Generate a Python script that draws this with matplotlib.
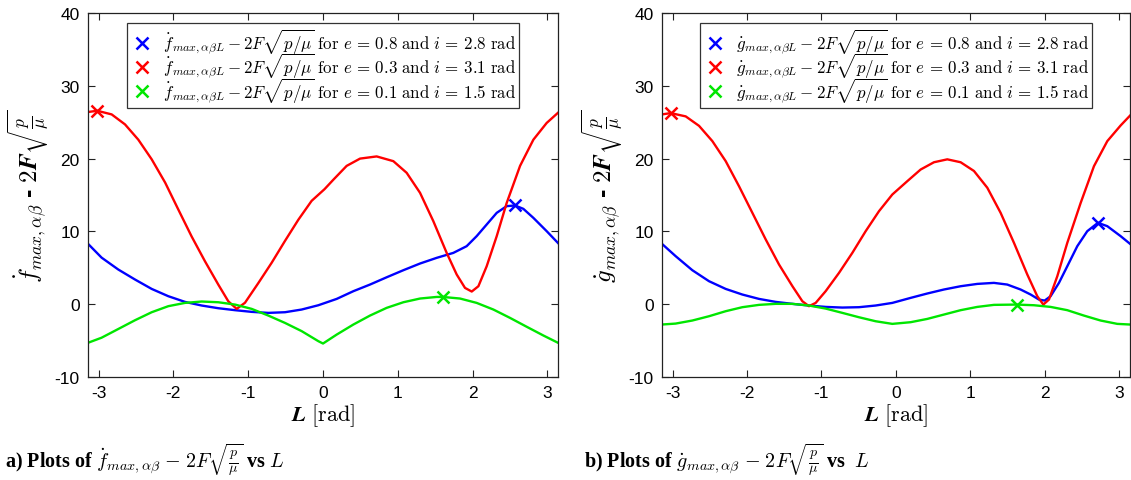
from __future__ import annotations

import matplotlib

matplotlib.use("Agg")
import matplotlib.pyplot as plt
import numpy as np
from matplotlib.axes import Axes

plt.rcParams["mathtext.fontset"] = "cm"
plt.rcParams["font.family"] = ["Liberation Sans", "DejaVu Sans"]
plt.rcParams["axes.unicode_minus"] = False

# --- panel a): f-dot curves (values read off the reference) ---
fa_blue_x = [-3.1416, -2.96, -2.736, -2.513, -2.29, -2.068, -1.845, -1.622, -1.40, -1.176,
             -0.954, -0.731, -0.508, -0.285, -0.062, 0.183, 0.406, 0.628, 0.851, 1.074,
             1.297, 1.52, 1.742, 1.92, 2.054, 2.188, 2.322, 2.455, 2.567, 2.678, 2.812,
             2.99, 3.1416]
fa_blue_y = [8.3, 6.4, 4.76, 3.39, 2.1, 1.1, 0.32, -0.18, -0.55, -0.82,
             -1.05, -1.19, -1.10, -0.73, -0.14, 0.73, 1.79, 2.7, 3.7, 4.67,
             5.59, 6.37, 7.05, 7.97, 9.35, 10.95, 12.55, 13.47, 13.56, 13.1, 11.86,
             10.03, 8.4]
fa_red_x = [-3.1416, -3.017, -2.825, -2.647, -2.469, -2.29, -2.11, -1.934, -1.756, -1.578,
            -1.40, -1.266, -1.154, -1.043, -0.865, -0.686, -0.508, -0.33, -0.152, 0.02,
            0.138, 0.316, 0.495, 0.717, 0.94, 1.118, 1.297, 1.475, 1.653, 1.787, 1.898,
            1.988, 2.077, 2.188, 2.322, 2.455, 2.634, 2.812, 2.99, 3.1416]
fa_red_y = [26.4, 26.57, 26.07, 24.7, 22.6, 19.9, 16.7, 13.0, 9.3, 5.9,
            2.7, 0.4, -0.64, 0.2, 2.9, 5.7, 8.7, 11.6, 14.2, 15.8,
            17.1, 19.0, 20.0, 20.3, 19.65, 18.05, 15.3, 11.4, 7.05, 4.08, 2.24,
            1.74, 2.47, 5.22, 9.35, 13.9, 19.0, 22.6, 24.9, 26.3]
fa_green_x = [-3.1416, -2.96, -2.736, -2.513, -2.29, -2.068, -1.845, -1.622, -1.40, -1.176,
              -0.954, -0.731, -0.508, -0.285, -0.062, 0.0, 0.183, 0.406, 0.628, 0.851,
              1.074, 1.297, 1.52, 1.60, 1.832, 2.054, 2.277, 2.5, 2.723, 2.946, 3.1416]
fa_green_y = [-5.3, -4.6, -3.4, -2.2, -1.1, -0.27, 0.18, 0.37, 0.27, -0.05,
              -0.64, -1.56, -2.57, -3.7, -5.08, -5.4, -4.17, -2.79, -1.56, -0.5,
              0.27, 0.78, 1.0, 1.0, 0.78, 0.18, -0.73, -1.88, -3.1, -4.3, -5.3]
fa_peaks_x = [2.567, -3.017, 1.60]
fa_peaks_y = [13.56, 26.57, 1.0]

# --- panel b): g-dot curves ---
gb_blue_x = [-3.1416, -2.958, -2.734, -2.51, -2.286, -2.063, -1.839, -1.615, -1.392, -1.168,
             -0.944, -0.72, -0.497, -0.273, -0.049, 0.197, 0.42, 0.644, 0.868, 1.092,
             1.315, 1.494, 1.673, 1.808, 1.919, 1.996, 2.076, 2.188, 2.3, 2.434, 2.568,
             2.711, 2.837, 3.016, 3.1416]
gb_blue_y = [8.29, 6.6, 4.67, 3.16, 2.1, 1.33, 0.73, 0.32, 0.05, -0.18,
             -0.37, -0.46, -0.41, -0.18, 0.18, 0.87, 1.47, 2.02, 2.47, 2.79,
             2.93, 2.7, 2.02, 1.33, 0.64, 0.5, 1.1, 2.93, 5.22, 7.97, 10.03,
             11.18, 10.72, 9.35, 8.3]
gb_red_x = [-3.1416, -3.025, -2.823, -2.644, -2.465, -2.286, -2.107, -1.928, -1.749, -1.57,
            -1.39, -1.257, -1.168, -1.078, -0.944, -0.765, -0.586, -0.407, -0.228, -0.049,
            0.152, 0.331, 0.51, 0.689, 0.868, 1.047, 1.226, 1.405, 1.584, 1.763, 1.897,
            1.978, 2.054, 2.166, 2.3, 2.479, 2.658, 2.837, 3.016, 3.1416]
gb_red_y = [26.07, 26.25, 25.8, 24.5, 22.4, 19.65, 16.2, 12.55, 8.9, 5.45,
            2.47, 0.41, -0.27, 0.18, 1.79, 4.3, 7.05, 10.03, 12.78, 15.07,
            16.9, 18.5, 19.5, 19.9, 19.5, 18.3, 16.0, 12.55, 8.43, 4.08, 1.1,
            -0.05, 0.64, 3.85, 8.43, 13.9, 18.96, 22.4, 24.55, 25.9]
gb_green_x = [-3.1416, -2.958, -2.734, -2.51, -2.286, -2.063, -1.839, -1.615, -1.392, -1.168,
              -0.944, -0.72, -0.497, -0.273, -0.049, 0.197, 0.42, 0.644, 0.868, 1.092,
              1.315, 1.62, 1.852, 2.076, 2.3, 2.523, 2.747, 2.971, 3.1416]
gb_green_y = [-2.79, -2.66, -2.24, -1.65, -0.96, -0.41, -0.09, 0.05, 0.05, -0.18,
              -0.6, -1.19, -1.79, -2.34, -2.7, -2.47, -2.02, -1.42, -0.82, -0.37,
              -0.09, -0.05, -0.14, -0.37, -0.82, -1.56, -2.24, -2.7, -2.79]
gb_peaks_x = [2.711, -3.025, 1.62]
gb_peaks_y = [11.18, 26.25, -0.05]

case_labels = [r"\ \mathrm{for}\ e\,=\,0.8\ \mathrm{and}\ i\,=\,2.8\ \mathrm{rad}",
               r"\ \mathrm{for}\ e\,=\,0.3\ \mathrm{and}\ i\,=\,3.1\ \mathrm{rad}",
               r"\ \mathrm{for}\ e\,=\,0.1\ \mathrm{and}\ i\,=\,1.5\ \mathrm{rad}"]
colors = ["#0000ff", "#ff0000", "#00e600"]


def draw_panel(ax: Axes, curves, peaks_x, peaks_y, sym: str, ylabel: str) -> None:
    for (xs, ys), color in zip(curves, colors):
        ax.plot(xs, ys, color=color, linewidth=1.7, zorder=2)
    for px, py, color, case in zip(peaks_x, peaks_y, colors, case_labels):
        ax.plot(px, py, linestyle="none", marker="x", markersize=8, markeredgewidth=1.8,
                color=color, zorder=3,
                label=rf"$\dot{{{sym}}}_{{max,\alpha\beta L}} - 2F\sqrt{{p/\mu}}{case}$")

    ax.set_xlim(-np.pi, np.pi)
    ax.set_ylim(-10, 40)
    ax.set_xticks([-3, -2, -1, 0, 1, 2, 3])
    ax.set_yticks([-10, 0, 10, 20, 30, 40])
    ax.tick_params(direction="in", top=True, right=True, labelsize=12.5, length=5,
                   width=0.8, pad=6, colors="#222222", labelcolor="black")
    for spine in ax.spines.values():
        spine.set_linewidth(0.9)
        spine.set_color("#222222")

    ax.set_xlabel(r"$\boldsymbol{L}$ $\mathrm{[rad]}$", fontsize=16, labelpad=1)
    ax.set_ylabel(ylabel, fontsize=18, fontweight="bold", labelpad=2)

    # rows sit tight like the reference; the sqrt bars make the text boxes tall
    leg = ax.legend(loc="upper center", bbox_to_anchor=(0.5, 0.972), frameon=True,
                    fancybox=False, framealpha=1, edgecolor="#333333",
                    handletextpad=0.5, borderpad=0.2, labelspacing=-0.3,
                    handlelength=1.4, borderaxespad=0.0, prop={"size": 12.2})
    leg.get_frame().set_linewidth(0.9)


fig = plt.figure(figsize=(11.31, 4.81), dpi=100)
ax_a = fig.add_axes([0.0778, 0.2141, 0.4156, 0.7568])
ax_b = fig.add_axes([0.5853, 0.2141, 0.4138, 0.7568])

draw_panel(ax_a, [(fa_blue_x, fa_blue_y), (fa_red_x, fa_red_y), (fa_green_x, fa_green_y)],
           fa_peaks_x, fa_peaks_y, "f",
           r"$\boldsymbol{\dot{f}_{max,\alpha\beta}}$ - $\boldsymbol{2F\sqrt{\frac{p}{\mu}}}$")
draw_panel(ax_b, [(gb_blue_x, gb_blue_y), (gb_red_x, gb_red_y), (gb_green_x, gb_green_y)],
           gb_peaks_x, gb_peaks_y, "g",
           r"$\boldsymbol{\dot{g}_{max,\alpha\beta}}$ - $\boldsymbol{2F\sqrt{\frac{p}{\mu}}}$")

caption_kw = dict(fontsize=14.5, fontweight="bold", family="Liberation Serif", va="center")
fig.text(0.004, 0.043,
         r"a) Plots of $\dot{f}_{max,\alpha\beta}$ $\mathbf{-}$ $\mathbf{2}F\sqrt{\frac{p}{\mu}}$ vs $L$",
         **caption_kw)
fig.text(0.516, 0.043,
         r"b) Plots of $\dot{g}_{max,\alpha\beta}$ $\mathbf{-}$ $\mathbf{2}F\sqrt{\frac{p}{\mu}}$ vs  $L$",
         **caption_kw)

fig.savefig("out.png", dpi=100)
